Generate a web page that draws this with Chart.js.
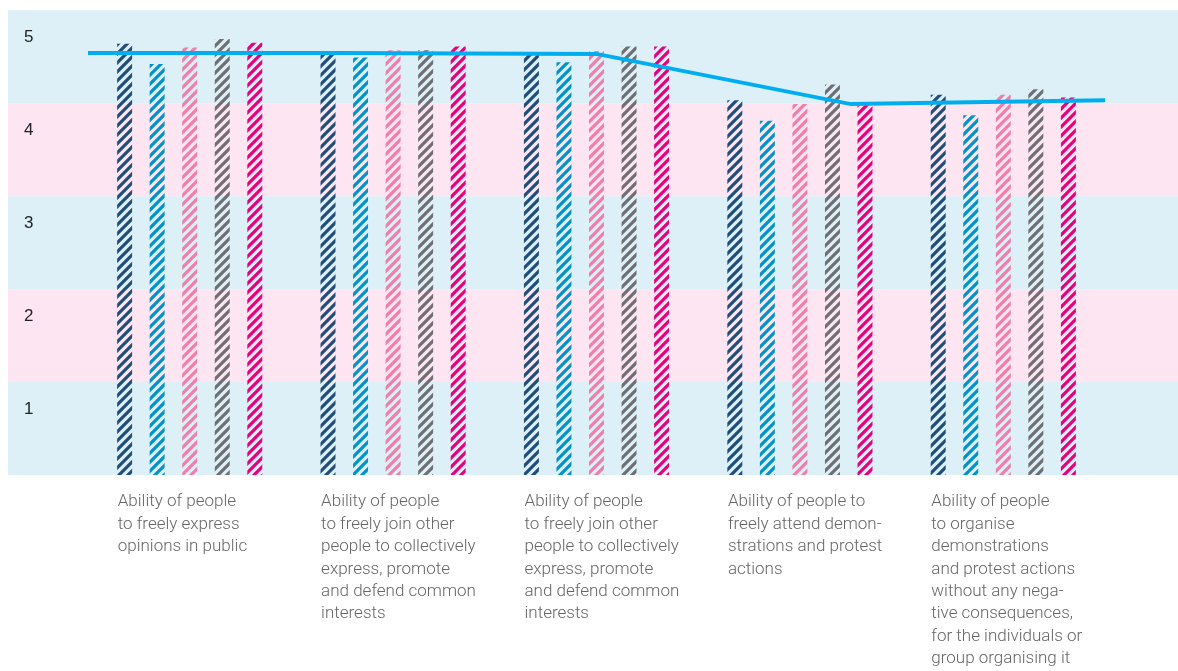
<!DOCTYPE html>
<html>
<head>
<meta charset="utf-8">
<script src="https://cdn.jsdelivr.net/npm/chart.js@4.4.1/dist/chart.umd.min.js"></script>
<style>
  html, body { margin: 0; padding: 0; background: #ffffff; }
  #wrap { width: 1178px; height: 671px; position: relative; }
  .layer { position: absolute; left: 0; top: 0; width: 1178px; height: 671px; }
</style>
</head>
<body>
<div id="wrap">
  <div class="layer"><canvas id="c"></canvas></div>
  <div class="layer"><canvas id="c2"></canvas></div>
</div>
<script>
// ---- data ----
const categories = [
  ["Ability of people", "to freely express", "opinions in public"],
  ["Ability of people", "to freely join other", "people to collectively", "express, promote", "and defend common", "interests"],
  ["Ability of people", "to freely join other", "people to collectively", "express, promote", "and defend common", "interests"],
  ["Ability of people to", "freely attend demon-", "strations and protest", "actions"],
  ["Ability of people", "to organise", "demonstrations", "and protest actions", "without any nega-", "tive consequences,", "for the individuals or", "group organising it"]
];
const seriesNavy    = [4.64, 4.54, 4.54, 4.03, 4.09];
const seriesBlue    = [4.42, 4.49, 4.44, 3.81, 3.87];
const seriesPink    = [4.60, 4.57, 4.56, 3.99, 4.09];
const seriesGray    = [4.69, 4.57, 4.61, 4.20, 4.15];
const seriesMagenta = [4.65, 4.61, 4.61, 4.00, 4.06];
const lineValues    = [4.54, 4.54, 4.53, 3.99, 4.03];
const yTickLabels   = ["1", "2", "3", "4", "5"];

// ---- styling helpers ----
function hatch(color) {
  const s = 9;
  const cv = document.createElement('canvas');
  cv.width = s; cv.height = s;
  const g = cv.getContext('2d');
  g.strokeStyle = color;
  g.lineWidth = 3.2;
  g.lineCap = 'butt';
  g.beginPath();
  g.moveTo(-2, s + 2); g.lineTo(s + 2, -2);
  g.moveTo(-2, 2); g.lineTo(2, -2);
  g.moveTo(s - 2, s + 2); g.lineTo(s + 2, s - 2);
  g.stroke();
  return g.createPattern(cv, 'repeat');
}

const bandPlugin = {
  id: 'bands',
  beforeDraw(chart) {
    const y = chart.scales.y;
    const c = chart.ctx;
    const blue = '#ddf0f8', pink = '#fde6f1';
    c.save();
    for (let i = 0; i < 5; i++) {
      const top = y.getPixelForValue(i + 1);
      const bot = y.getPixelForValue(i);
      c.fillStyle = (i % 2 === 0) ? blue : pink;
      c.fillRect(8, top, chart.width - 8, bot - top);
    }
    c.restore();
  }
};

const barCommon = { categoryPercentage: 0.80, barPercentage: 0.46, borderWidth: 0 };
const TICK_SHIFT = 0.29;

const main = new Chart(document.getElementById('c').getContext('2d'), {
  type: 'bar',
  data: {
    labels: categories,
    datasets: [
      Object.assign({ label: 'navy', data: seriesNavy, backgroundColor: hatch('#1f4e79') }, barCommon),
      Object.assign({ label: 'blue', data: seriesBlue, backgroundColor: hatch('#0092c8') }, barCommon),
      Object.assign({ label: 'pink', data: seriesPink, backgroundColor: hatch('#f07daa') }, barCommon),
      Object.assign({ label: 'gray', data: seriesGray, backgroundColor: hatch('#6e6e73') }, barCommon),
      Object.assign({ label: 'magenta', data: seriesMagenta, backgroundColor: hatch('#e6007e') }, barCommon)
    ]
  },
  options: {
    responsive: true,
    maintainAspectRatio: false,
    animation: false,
    layout: { padding: { left: 24, right: 73, top: 8, bottom: 0 } },
    plugins: { legend: { display: false }, tooltip: { enabled: false } },
    scales: {
      x: {
        type: 'category',
        offset: true,
        grid: { display: false, drawTicks: false },
        border: { display: false },
        afterFit(scale) { scale.paddingLeft = 0; scale.paddingRight = 0; scale.height = 196; },
        ticks: {
          align: 'start', labelOffset: -72, padding: 16,
          maxRotation: 0, minRotation: 0, autoSkip: false,
          color: '#666666',
          font: { family: 'Roboto', weight: 300, size: 17, lineHeight: 1.318 }
        }
      },
      y: {
        type: 'linear',
        min: 0, max: 5,
        grid: { display: false, drawTicks: false },
        border: { display: false },
        afterFit(scale) { scale.width = 64; },
        afterBuildTicks(scale) {
          scale.ticks = yTickLabels.map((t, i) => ({ value: i + 1 - TICK_SHIFT }));
        },
        ticks: {
          crossAlign: 'far', padding: 0,
          color: '#222',
          font: { family: 'Liberation Sans', size: 17 },
          callback: (v, i) => yTickLabels[i]
        }
      }
    }
  },
  plugins: [bandPlugin]
});

// The average line spans the plot edge to edge; it is drawn on an overlay
// chart whose plot area is aligned with the main chart's plot area.
const area = main.chartArea;
new Chart(document.getElementById('c2').getContext('2d'), {
  type: 'line',
  data: {
    datasets: [{
      label: 'average',
      data: lineValues.map((v, i) => ({ x: i, y: v })),
      borderColor: '#00aeef', borderWidth: 4, pointRadius: 0, tension: 0, fill: false
    }]
  },
  options: {
    responsive: true,
    maintainAspectRatio: false,
    animation: false,
    layout: { padding: { left: area.left, top: area.top, right: main.width - area.right, bottom: main.height - area.bottom } },
    plugins: { legend: { display: false }, tooltip: { enabled: false } },
    scales: {
      x: { type: 'linear', min: 0, max: lineValues.length - 1, display: false },
      y: { type: 'linear', min: 0, max: 5, display: false }
    }
  }
});
</script>
</body>
</html>
